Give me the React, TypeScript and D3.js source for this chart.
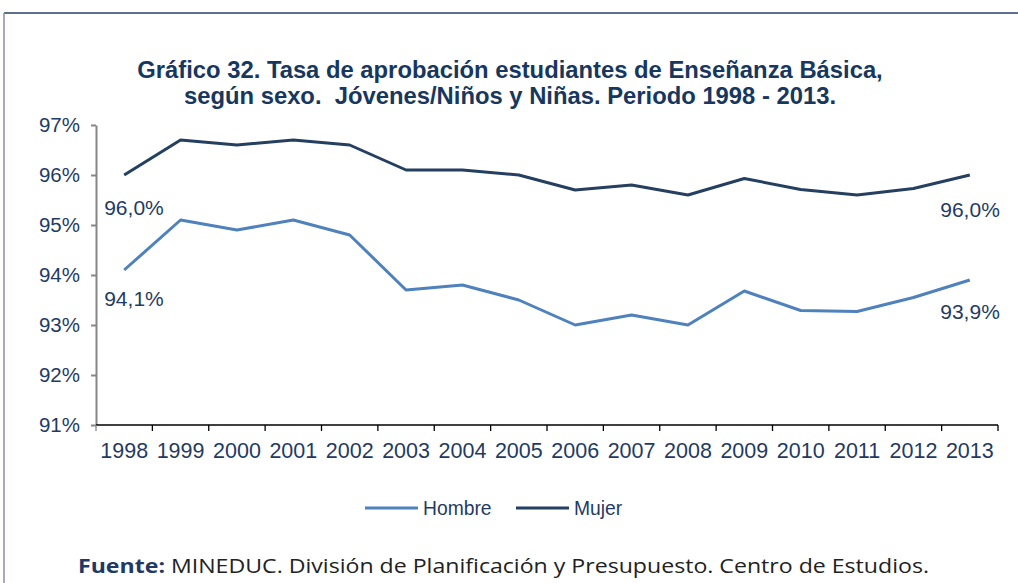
import React, { useEffect, useRef } from 'react'
import * as d3 from 'd3'

const width = 1018
const height = 583
const margin = { top: 125, right: 20, bottom: 158, left: 96 }

const years = ['1998', '1999', '2000', '2001', '2002', '2003', '2004', '2005', '2006', '2007', '2008', '2009', '2010', '2011', '2012', '2013']
const hombre = [94.1, 95.1, 94.9, 95.1, 94.8, 93.7, 93.8, 93.5, 93.0, 93.2, 93.0, 93.68, 93.29, 93.27, 93.55, 93.9]
const mujer = [96.0, 96.7, 96.6, 96.7, 96.6, 96.1, 96.1, 96.0, 95.7, 95.8, 95.6, 95.93, 95.71, 95.6, 95.73, 96.0]
const yTicks = [91, 92, 93, 94, 95, 96, 97]
const seriesNames = ['Hombre', 'Mujer']
const colors = ['#4f81bd', '#243f60']
const titleLines = [
  'Gráfico 32. Tasa de aprobación estudiantes de Enseñanza Básica,',
  'según sexo.  Jóvenes/Niños y Niñas. Periodo 1998 - 2013.',
]

const textColor = '#1f3b63'
const font = '"Liberation Sans", Arial, sans-serif'

const App = () => {
  const yAxis = useRef<SVGGElement>(null)

  const x = d3.scaleBand().domain(years).range([margin.left, width - margin.right])
  const y = d3.scaleLinear().domain([91, 97]).range([height - margin.bottom, margin.top])
  const cx = (yr: string) => (x(yr) as number) + x.bandwidth() / 2

  const line = d3.line<number>()
    .x((_, i) => cx(years[i]))
    .y(d => y(d))

  useEffect(() => {
    const axis = d3.axisLeft(y)
      .tickValues(yTicks)
      .tickSize(5)
      .tickSizeOuter(0)
      .tickPadding(11)
      .tickFormat(d => `${d}%`)
    const g = d3.select(yAxis.current).call(axis)
    g.select('.domain').attr('stroke', '#868686').attr('stroke-width', 2)
    g.selectAll('.tick line').attr('stroke', '#868686').attr('stroke-width', 2)
    g.selectAll('.tick text')
      .attr('fill', textColor)
      .style('font-family', font)
      .style('font-size', '20.5px')
  }, [])

  const bounds = [...years.map(yr => x(yr) as number), width - margin.right]
  const base = y(91)
  const first = years[0]
  const last = years[years.length - 1]
  const pct = (v: number) => `${v.toFixed(1).replace('.', ',')}%`

  return (
    <svg width={width} height={height} style={{ position: 'absolute', left: 0, top: 0, background: '#fff' }}>
      <line x1={4} x2={width} y1={13} y2={13} stroke='#2e3f66' strokeWidth={1.5} />
      <line x1={4} x2={4} y1={13} y2={height} stroke='#8a8f9c' strokeWidth={1.5} />

      <g fontFamily={font} fontWeight='bold' fontSize={23.8} fill='#17375e' textAnchor='middle'>
        {titleLines.map((t, i) => (
          <text key={i} x={510} y={78 + i * 26} xmlSpace='preserve'>{t}</text>
        ))}
      </g>

      <g ref={yAxis} transform={`translate(${margin.left}, 0)`}></g>

      <line x1={margin.left} x2={width - margin.right} y1={base} y2={base} stroke='#000' strokeWidth={1.3} />
      {bounds.map((b, i) => (
        <line key={i} x1={b} x2={b} y1={base} y2={base + 6} stroke={i === 0 ? '#868686' : '#000'} strokeWidth={1.3} />
      ))}
      <g fontFamily={font} fontSize={21.5} fill={textColor} textAnchor='middle'>
        {years.map(yr => (
          <text key={yr} x={cx(yr)} y={base + 33}>{yr}</text>
        ))}
      </g>

      {[hombre, mujer].map((s, i) => (
        <path key={i} d={line(s) as string} fill='none' stroke={colors[i]} strokeWidth={3} strokeLinejoin='round' />
      ))}

      <g fontFamily={font} fontSize={21} fill={textColor}>
        <text x={cx(first) - 20} y={y(mujer[0]) + 40}>{pct(mujer[0])}</text>
        <text x={cx(first) - 20} y={y(hombre[0]) + 36}>{pct(hombre[0])}</text>
        <text x={cx(last) + 30} y={y(mujer[15]) + 42} textAnchor='end'>{pct(mujer[15])}</text>
        <text x={cx(last) + 30} y={y(hombre[15]) + 39} textAnchor='end'>{pct(hombre[15])}</text>
      </g>

      <g fontFamily={font} fontSize={19.3} fill={textColor}>
        {seriesNames.map((n, i) => {
          const lx = 365 + i * 151
          return (
            <g key={n}>
              <line x1={lx} x2={lx + 53} y1={508} y2={508} stroke={colors[i]} strokeWidth={3} />
              <text x={lx + 58} y={515}>{n}</text>
            </g>
          )
        })}
      </g>

      <text x={78} y={573} fontFamily='"Open Sans", "Noto Sans", sans-serif' fontSize={20} fill='#222' textLength={851} lengthAdjust='spacingAndGlyphs'>
        <tspan fontWeight='bold' fill='#1f3864'>Fuente:</tspan> MINEDUC. División de Planificación y Presupuesto. Centro de Estudios.
      </text>
    </svg>
  )
}

export default App
